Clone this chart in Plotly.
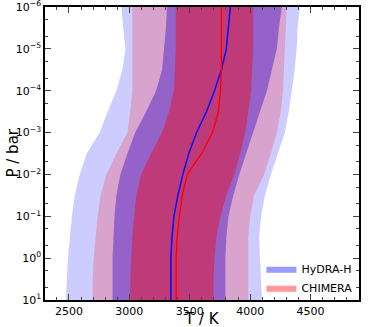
import plotly.graph_objects as go

# Pressure grid (bar)
pressure = [1e-6, 3.16e-6, 1e-5, 3.16e-5, 1e-4, 3.16e-4, 1e-3, 3.16e-3,
            1e-2, 3.16e-2, 1e-1, 3.16e-1, 1e0, 3.16e0, 1e1]

# HyDRA-H outer (2 sigma) band
hydra_2s_lo = [2934, 2951, 2967, 2943, 2893, 2820, 2754, 2648, 2590, 2549, 2525, 2508, 2492, 2483, 2475]
hydra_2s_hi = [4410, 4393, 4385, 4369, 4344, 4320, 4287, 4230, 4172, 4123, 4090, 4074, 4082, 4090, 4098]
# CHIMERA outer (2 sigma) band
chimera_2s_lo = [3025, 3025, 3025, 3025, 3025, 3008, 2984, 2893, 2811, 2762, 2738, 2721, 2705, 2697, 2697]
chimera_2s_hi = [4303, 4295, 4287, 4279, 4271, 4254, 4221, 4172, 4115, 4033, 4000, 3984, 3984, 3984, 3984]
# HyDRA-H inner (1 sigma) band
hydra_1s_lo = [3312, 3303, 3287, 3271, 3221, 3139, 3049, 2984, 2926, 2893, 2877, 2869, 2861, 2861, 2861]
hydra_1s_hi = [4262, 4238, 4221, 4180, 4139, 4082, 4025, 3967, 3910, 3861, 3820, 3803, 3795, 3795, 3795]
# CHIMERA inner (1 sigma) band
chimera_1s_lo = [3385, 3385, 3385, 3377, 3369, 3328, 3271, 3180, 3098, 3057, 3041, 3025, 3016, 3008, 3008]
chimera_1s_hi = [4025, 4025, 4025, 4016, 4008, 3984, 3959, 3918, 3869, 3803, 3754, 3721, 3705, 3697, 3697]
# Median profiles
hydra_median = [3836, 3820, 3803, 3762, 3705, 3639, 3557, 3492, 3443, 3402, 3369, 3353, 3344, 3344, 3344]
chimera_median = [3762, 3762, 3762, 3762, 3754, 3738, 3688, 3598, 3480, 3438, 3414, 3396, 3388, 3388, 3388]

x_ticks = [2500, 3000, 3500, 4000, 4500]
y_tickvals = [1e-6, 1e-5, 1e-4, 1e-3, 1e-2, 1e-1, 1e0, 1e1]
y_ticktext = ["10<sup>\u22126</sup>", "10<sup>\u22125</sup>", "10<sup>\u22124</sup>",
              "10<sup>\u22123</sup>", "10<sup>\u22122</sup>", "10<sup>\u22121</sup>",
              "10<sup>0</sup>", "10<sup>1</sup>"]

fig = go.Figure()

def band(lo, hi, color):
    fig.add_trace(go.Scatter(
        x=list(lo) + list(hi)[::-1],
        y=list(pressure) + list(pressure)[::-1],
        fill="toself", fillcolor=color, mode="lines",
        line=dict(width=0, color=color), showlegend=False, hoverinfo="skip"))

band(hydra_2s_lo, hydra_2s_hi, "#ccccff")
band(chimera_2s_lo, chimera_2s_hi, "#d8a3cc")
band(hydra_1s_lo, hydra_1s_hi, "#9462c9")
band(chimera_1s_lo, chimera_1s_hi, "#bf3a78")

fig.add_trace(go.Scatter(x=hydra_median, y=pressure, mode="lines",
                         line=dict(color="#0000ff", width=1.4), showlegend=False))
fig.add_trace(go.Scatter(x=chimera_median, y=pressure, mode="lines",
                         line=dict(color="#ff0000", width=1.4), showlegend=False))

# legend entries
fig.add_trace(go.Scatter(x=[None], y=[None], fill="toself", fillcolor="#9999ff",
                         mode="lines", line=dict(width=0, color="#9999ff"), name="HyDRA-H"))
fig.add_trace(go.Scatter(x=[None], y=[None], fill="toself", fillcolor="#ff9999",
                         mode="lines", line=dict(width=0, color="#ff9999"), name="CHIMERA"))

font = "DejaVu Sans"
fig.update_layout(
    width=374, height=327,
    margin=dict(l=45, r=15, t=7, b=27),
    paper_bgcolor="white", plot_bgcolor="white",
    font=dict(family=font, color="black", size=11),
    legend=dict(x=0.995, y=-0.008, xanchor="right", yanchor="bottom",
                bgcolor="rgba(0,0,0,0)", font=dict(size=11),
                itemwidth=30, tracegroupgap=0),
    annotations=[
        dict(text="T / K", xref="paper", yref="paper", x=0.5, y=-0.028,
             xanchor="center", yanchor="top", showarrow=False,
             font=dict(size=15)),
        dict(text="P / bar", xref="paper", yref="paper", x=-0.105, y=0.5,
             xanchor="center", yanchor="middle", showarrow=False,
             textangle=-90, font=dict(size=15)),
    ],
)
fig.update_xaxes(
    range=[2302, 4901], tickvals=x_ticks, ticks="inside", ticklen=6, tickwidth=1.2,
    showline=True, linewidth=1.5, linecolor="black", mirror="ticks",
    showgrid=False, zeroline=False, automargin=False, ticklabeloverflow="allow",
    minor=dict(ticks="inside", ticklen=3, dtick=100, tick0=0, showgrid=False),
)
fig.update_yaxes(
    type="log", range=[1.0005, -6.0005], tickvals=y_tickvals, ticktext=y_ticktext,
    ticks="inside", ticklen=6, tickwidth=1.2,
    showline=True, linewidth=1.5, linecolor="black", mirror="ticks",
    showgrid=False, zeroline=False, automargin=False, ticklabeloverflow="allow",
    minor=dict(ticks="inside", ticklen=3, showgrid=False),
)

fig.write_html("out.html", config={"displayModeBar": False},
               post_script="document.body.style.margin='0px';")
